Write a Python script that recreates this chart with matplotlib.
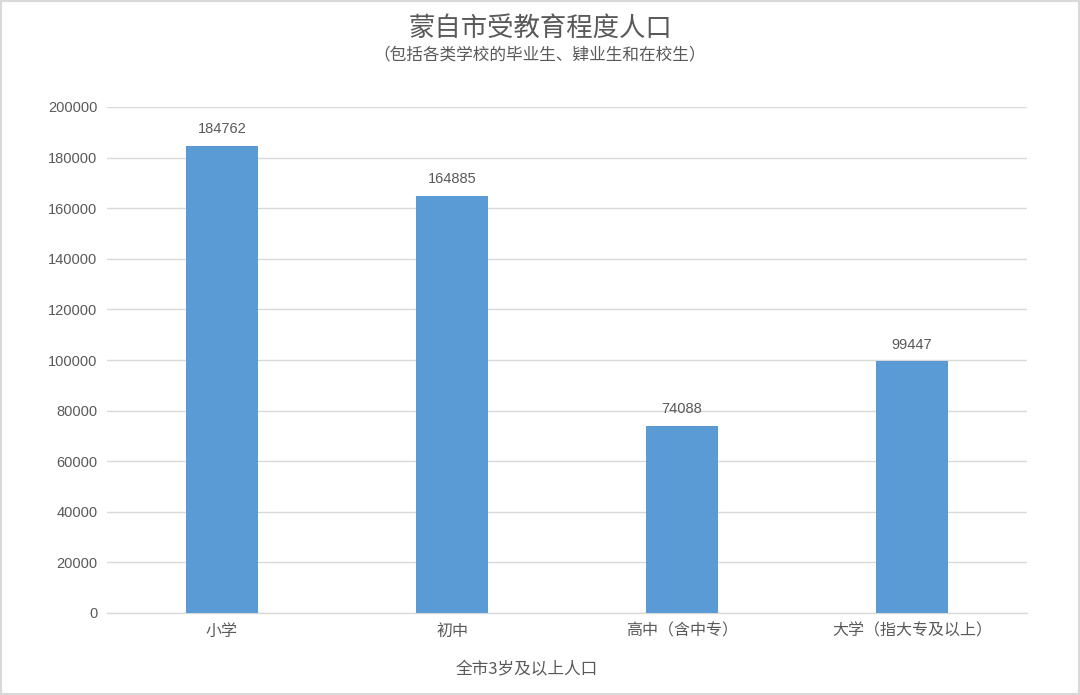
import matplotlib
matplotlib.use("Agg")
import matplotlib.pyplot as plt
from matplotlib.patches import Rectangle

plt.rcParams['font.family'] = ['Noto Sans CJK SC', 'DejaVu Sans']

categories = ["小学", "初中", "高中（含中专）", "大学（指大专及以上）"]
values = [184762, 164885, 74088, 99447]
yticks = [0, 20000, 40000, 60000, 80000, 100000, 120000, 140000, 160000, 180000, 200000]

title = "蒙自市受教育程度人口"
subtitle = "（包括各类学校的毕业生、肄业生和在校生）"
xlabel = "全市3岁及以上人口"

text_color = "#595959"
bar_color = "#5b9bd5"
grid_color = "#d9d9d9"
num_font = ['Liberation Sans', 'DejaVu Sans']

fig = plt.figure(figsize=(10.8, 6.95), dpi=100)
ax = fig.add_axes([107/1080, 1-613/695, 920/1080, 506/695])

x = list(range(len(categories)))
ax.bar(x, values, width=0.313, color=bar_color, zorder=3)
for xi, v in zip(x, values):
    ax.annotate(str(v), (xi, v), xytext=(0, 7), textcoords="offset points",
                ha="center", va="bottom", fontsize=10.5, color=text_color,
                family=num_font)

ax.set_xlim(-0.5, len(categories) - 0.5)
ax.set_ylim(0, 200000)
ax.set_yticks(yticks)
ax.set_yticklabels([str(t) for t in yticks], fontsize=10.5, color=text_color,
                   family=num_font)
ax.set_xticks(x)
ax.set_xticklabels(categories, fontsize=11.5, color=text_color)
ax.tick_params(axis='both', length=0)
ax.tick_params(axis='y', pad=7)
ax.tick_params(axis='x', pad=7)
ax.grid(axis='y', color=grid_color, linewidth=1, zorder=0)
for s in ['top', 'right', 'left']:
    ax.spines[s].set_visible(False)
ax.spines['bottom'].set_color(grid_color)
ax.spines['bottom'].set_linewidth(1)

fig.text(0.5, 1-28/695, title, ha='center', va='center', fontsize=19, color=text_color)
fig.text(0.5, 1-55/695, subtitle, ha='center', va='center', fontsize=12, color=text_color)
fig.text(527/1080, 1-670/695, xlabel, ha='center', va='center', fontsize=12, color=text_color)

fig.patches.append(Rectangle((0.001, 0.0015), 0.998, 0.997, transform=fig.transFigure,
                             fill=False, edgecolor=grid_color, linewidth=1.5))

fig.savefig("out.png", dpi=100)
